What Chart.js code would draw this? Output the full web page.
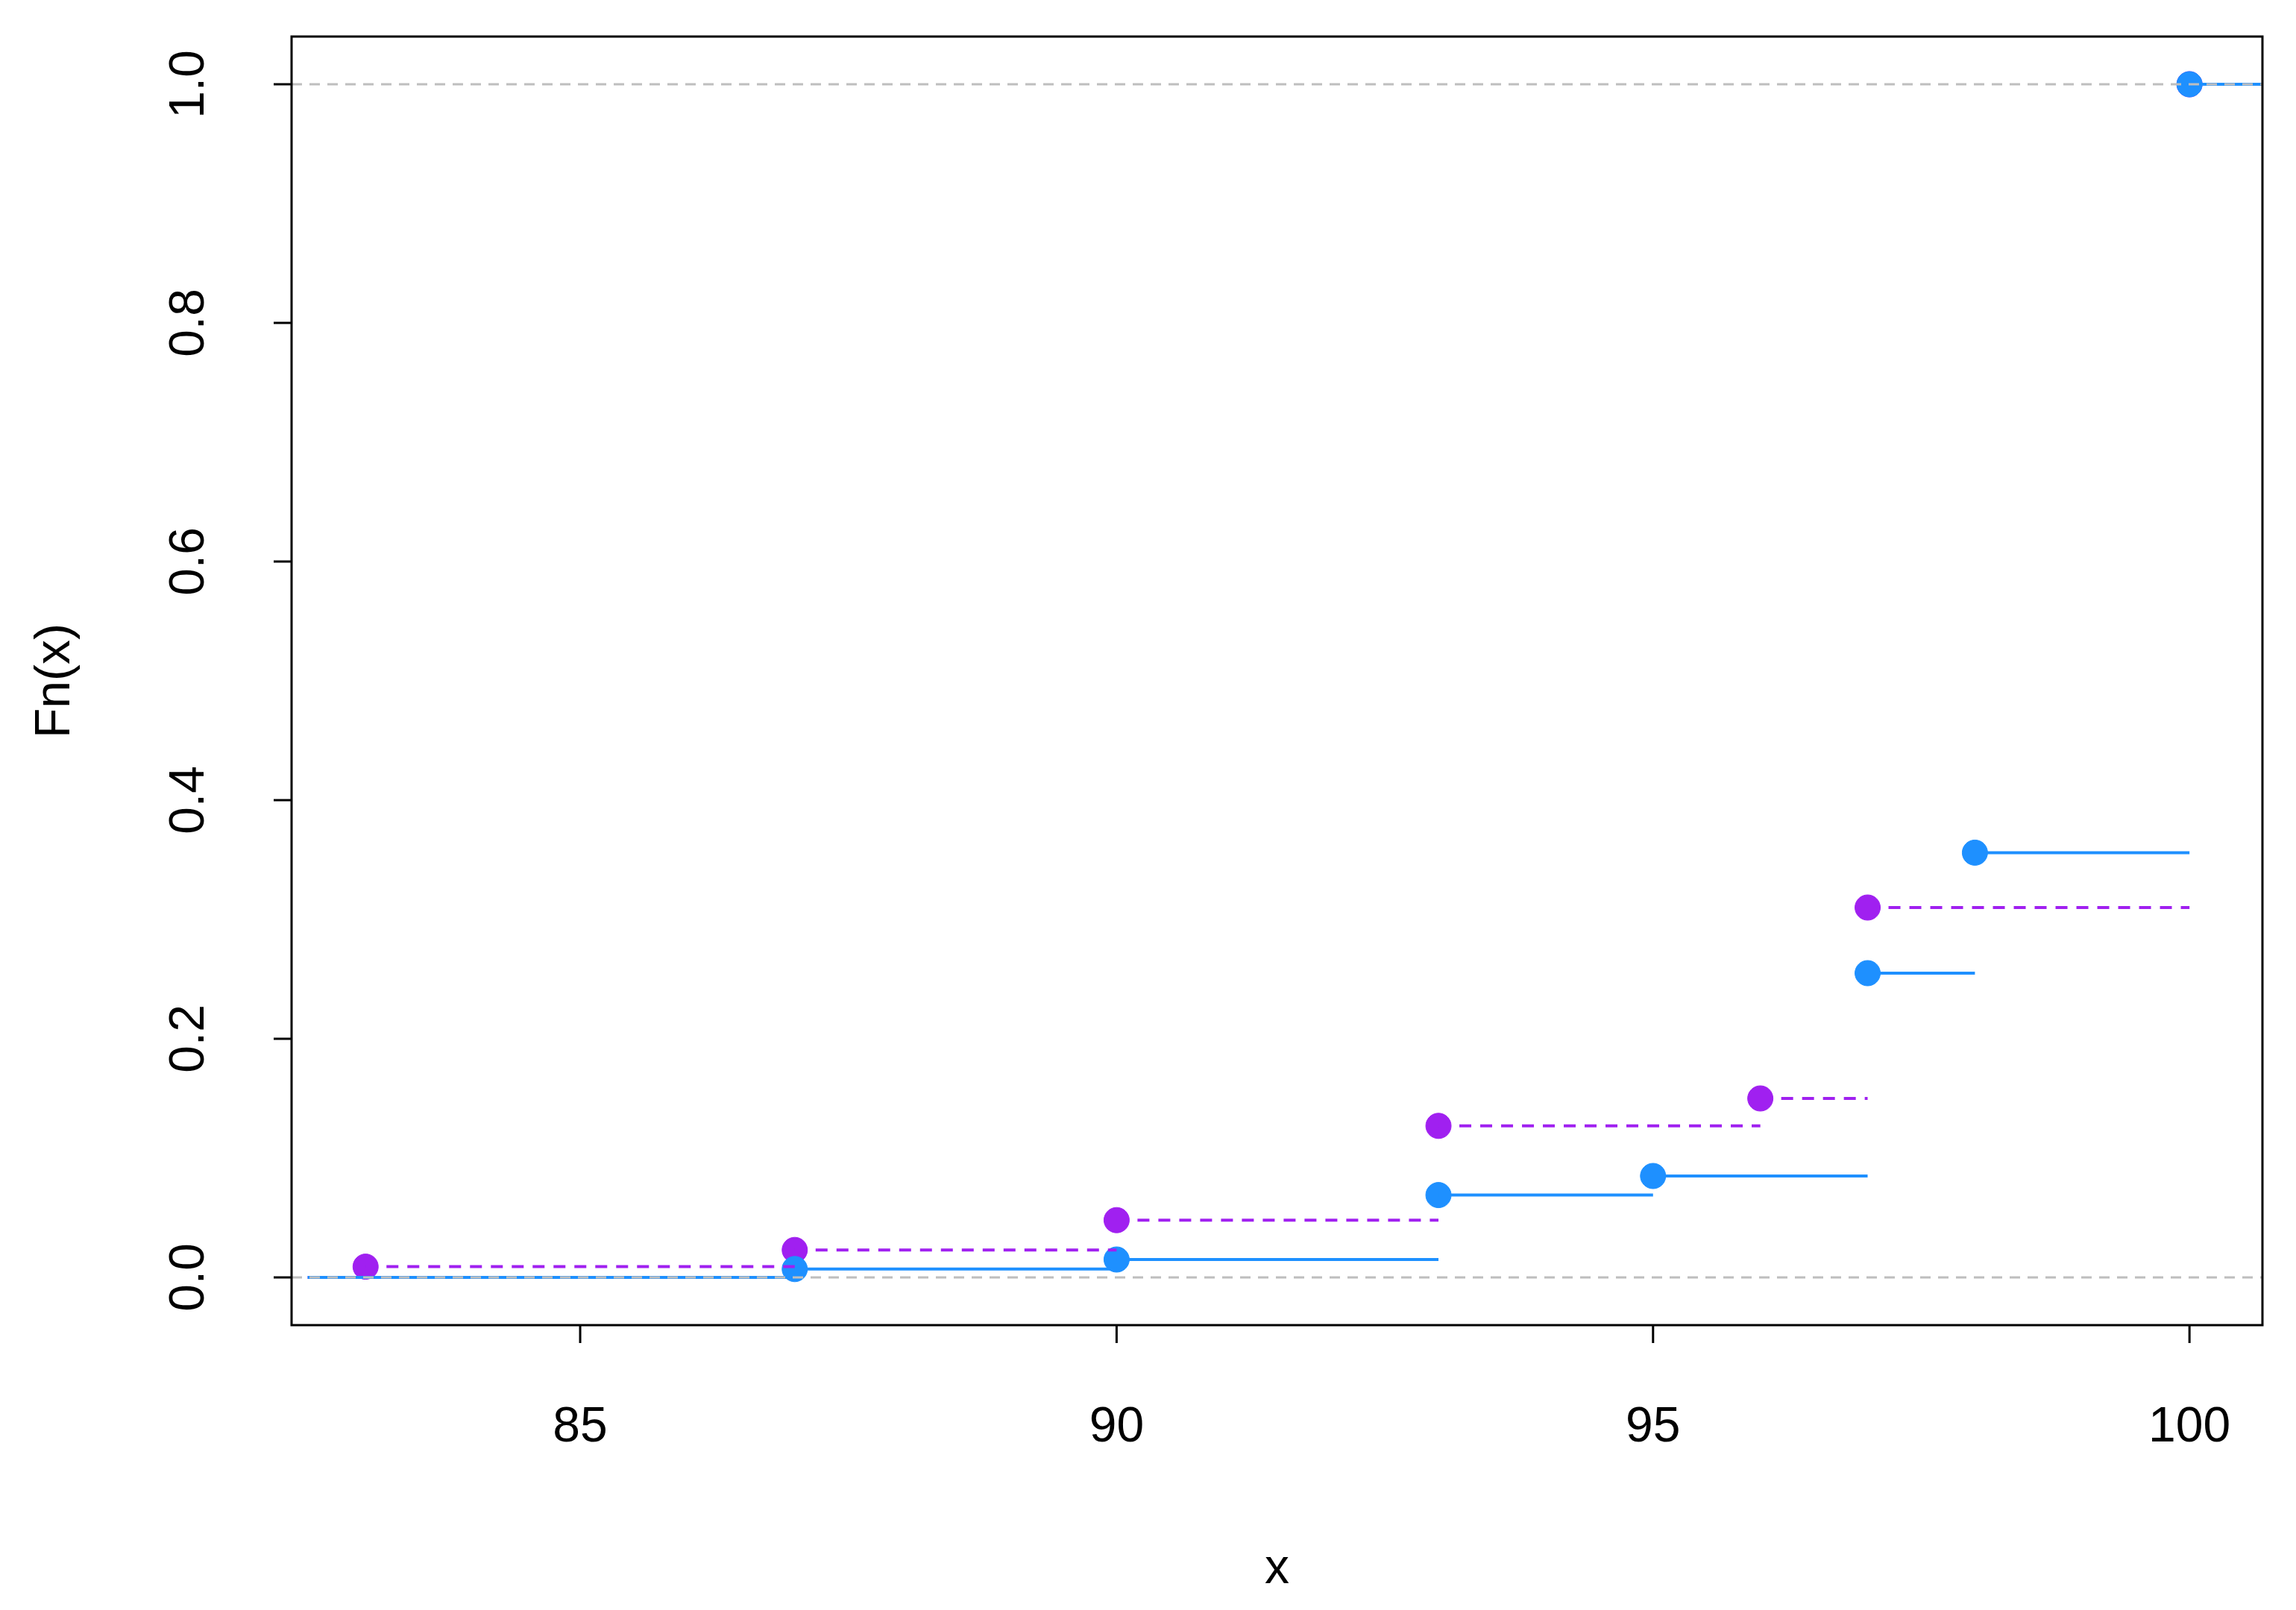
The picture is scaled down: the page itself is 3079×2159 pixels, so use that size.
<!DOCTYPE html>
<html><head><meta charset="utf-8">
<script src="https://cdn.jsdelivr.net/npm/chart.js@4/dist/chart.umd.min.js"></script>
<style>html,body{margin:0;padding:0;background:#fff}#w{width:3079px;height:2159px}</style>
</head><body><div id="w"><canvas id="c"></canvas></div>
<script>
const blueX = [87, 90, 93, 95, 97, 98, 100];
const blueY = [0.007, 0.015, 0.069, 0.085, 0.255, 0.356, 1.0];
const purpleX = [83, 87, 90, 93, 96, 97, 100];
const purpleY = [0.009, 0.023, 0.048, 0.127, 0.150, 0.310, 1.0];
const xTicks = [85, 90, 95, 100];
const yTicks = [0, 0.2, 0.4, 0.6, 0.8, 1.0];
const xMin = 82.31, xMax = 100.68, yMin = -0.04, yMax = 1.04;

function steps(xs, ys) {
  const d = [{x: xMin + 0.15, y: 0}, {x: xs[0], y: 0}, {x: NaN, y: null}];
  for (let i = 0; i < xs.length; i++) {
    const nx = i + 1 < xs.length ? xs[i + 1] : xMax;
    d.push({x: xs[i], y: ys[i]}, {x: nx, y: ys[i]}, {x: NaN, y: null});
  }
  return d.filter(p => !isNaN(p.x) || p.y === null).map(p => isNaN(p.x) ? {x: null, y: null} : p);
}
function pts(xs, ys) { return xs.map((x, i) => ({x, y: ys[i]})); }
const BLUE = '#1E90FF', PURPLE = '#A020F0', GRAY = '#BEBEBE';

const frame = {
  id: 'frame',
  afterDraw(ch) {
    const c = ch.ctx, a = ch.chartArea, xs = ch.scales.x, ys = ch.scales.y;
    c.save();
    c.strokeStyle = '#000'; c.lineWidth = 3;
    c.strokeRect(a.left, a.top, a.right - a.left, a.bottom - a.top);
    c.fillStyle = '#000'; c.font = '66px Arial, "Liberation Sans", sans-serif';
    c.textAlign = 'center'; c.textBaseline = 'middle';
    xTicks.forEach(t => {
      const p = xs.getPixelForValue(t);
      c.beginPath(); c.moveTo(p, a.bottom); c.lineTo(p, a.bottom + 24); c.stroke();
      c.fillText(String(t), p, 1915);
    });
    yTicks.forEach(t => {
      const p = ys.getPixelForValue(t);
      c.beginPath(); c.moveTo(a.left, p); c.lineTo(a.left - 24, p); c.stroke();
      c.save(); c.translate(255, p); c.rotate(-Math.PI / 2); c.fillText(t.toFixed(1), 0, 0); c.restore();
    });
    c.fillText('x', (a.left + a.right) / 2, 2105);
    c.save(); c.translate(75, (a.top + a.bottom) / 2); c.rotate(-Math.PI / 2); c.fillText('Fn(x)', 0, 0); c.restore();
    c.restore();
  }
};

new Chart(document.getElementById('c'), {
  type: 'scatter',
  data: { datasets: [
    {type: 'line', data: [{x: xMin, y: 0}, {x: xMax, y: 0}], borderColor: GRAY, borderWidth: 3, borderDash: [14, 10], pointRadius: 0},
    {type: 'line', data: [{x: xMin, y: 1}, {x: xMax, y: 1}], borderColor: GRAY, borderWidth: 3, borderDash: [14, 10], pointRadius: 0},
    {type: 'line', data: steps(blueX, blueY), borderColor: BLUE, borderWidth: 4, pointRadius: 0, spanGaps: false},
    {type: 'line', data: steps(purpleX, purpleY), borderColor: PURPLE, borderWidth: 4, borderDash: [16, 12], pointRadius: 0, spanGaps: false},
    {data: pts(blueX, blueY), backgroundColor: BLUE, borderColor: BLUE, pointRadius: 17},
    {data: pts(purpleX, purpleY), backgroundColor: PURPLE, borderColor: PURPLE, pointRadius: 17}
  ]},
  options: {
    responsive: true, maintainAspectRatio: false, animation: false,
    layout: {padding: {left: 391, top: 49, right: 45, bottom: 382}},
    plugins: {legend: {display: false}, tooltip: {enabled: false}},
    scales: {
      x: {type: 'linear', min: xMin, max: xMax, display: false},
      y: {type: 'linear', min: yMin, max: yMax, display: false}
    }
  },
  plugins: [frame]
});
</script></body></html>
